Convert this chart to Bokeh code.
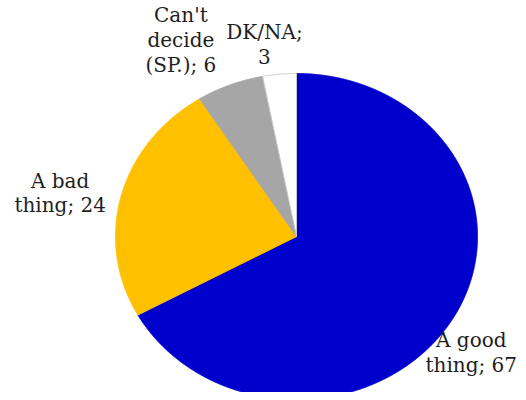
import numpy as np
from bokeh.plotting import figure
from bokeh.models import ColumnDataSource, Range1d
from bokeh.core.properties import value
from bokeh.embed import file_html
from bokeh.resources import INLINE

# ---- data ----
categories = ["A good thing", "A bad thing", "Can't decide (SP.)", "DK/NA"]
values = [67, 24, 6, 3]
labels = ["A good\nthing; 67", "A bad\nthing; 24", "Can't\ndecide\n(SP.); 6", "DK/NA;\n3"]

# ---- style ----
colors = ["#0000CC", "#FFC000", "#A6A6A6", "#FFFFFF"]
edge_colors = ["#0000CC", "#FFC000", "#A6A6A6", "#C8C8C8"]
# label offsets from the slice's rim mid-point, in screen pixels (right, down)
label_dx = [19, -61, -49, -15]
label_dy = [33, -3, -45, -30]

W, H = 518, 392
CX, CY = 296, 236          # pie centre in plot pixels (from top-left)
RX, RY = 181, 163          # pie radii in pixels (slightly flattened pie)

total = float(sum(values))
fracs = np.cumsum([0] + values) / total
xs, ys, lx, ly = [], [], [], []
for i in range(len(values)):
    a0, a1 = 2 * np.pi * fracs[i], 2 * np.pi * fracs[i + 1]   # clockwise from 12 o'clock
    t = np.linspace(a0, a1, max(8, int(400 * (a1 - a0))))
    xs.append([0.0] + list(np.sin(t)) + [0.0])
    ys.append([0.0] + list(np.cos(t)) + [0.0])
    am = 0.5 * (a0 + a1)
    lx.append(np.sin(am) + label_dx[i] / RX)
    ly.append(np.cos(am) - label_dy[i] / RY)

p = figure(width=W, height=H, output_backend="svg", toolbar_location=None,
           x_range=Range1d(-CX / RX, (W - CX) / RX),
           y_range=Range1d(-(H - CY) / RY, CY / RY),
           min_border=0, border_fill_color="white", background_fill_color="white")
p.axis.visible = False
p.grid.visible = False
p.outline_line_color = None

src = ColumnDataSource(dict(xs=xs, ys=ys, color=colors, edge=edge_colors, cat=categories))
p.patches("xs", "ys", source=src, fill_color="color", line_color="edge", line_width=1)

tsrc = ColumnDataSource(dict(x=lx, y=ly, text=labels))
p.text("x", "y", text="text", source=tsrc, text_font=value("DejaVu Serif"),
       text_font_size="20px", text_align="center", text_baseline="middle",
       text_color="#1e1e1e", text_line_height=1.03)

open("out.html", "w").write(file_html(p, INLINE))
